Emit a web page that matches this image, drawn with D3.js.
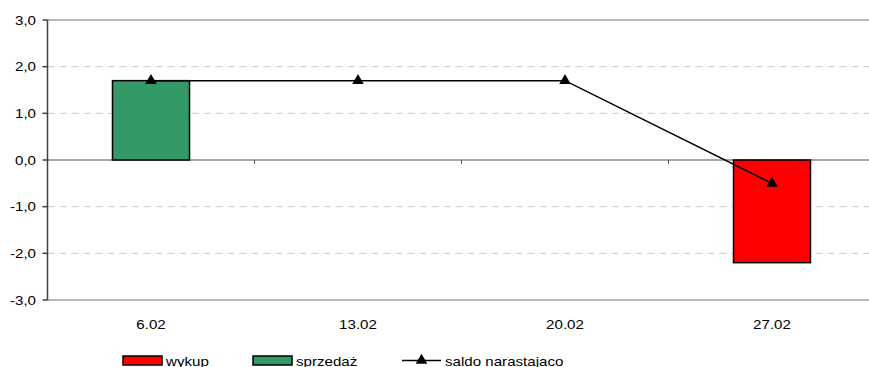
<!DOCTYPE html>
<html>
<head>
<meta charset="utf-8">
<script src="https://cdn.jsdelivr.net/npm/d3@7"></script>
<style>
  html, body { margin: 0; padding: 0; background: #fff; }
  svg { display: block; }
  text { font-family: "Liberation Sans", Arial, sans-serif; fill: #000; }
</style>
</head>
<body>
<svg id="chart" width="869" height="367"></svg>
<script>
// Weekly values
const categories = ["6.02", "13.02", "20.02", "27.02"];
const wykup = [0, 0, 0, -2.2];        // redemptions
const sprzedaz = [1.7, 0, 0, 0];      // sales
const saldo = [1.7, 1.7, 1.7, -0.5];  // cumulative balance
const yTicks = [-3, -2, -1, 0, 1, 2, 3];
const legendLabels = ["wykup", "sprzedaż", "saldo narastajaco"];

const colors = { wykup: "#ff0000", sprzedaz: "#339966" };

const svg = d3.select("#chart");
const W = 869, H = 367;
const plot = { left: 47.5, right: 875.5, top: 20, bottom: 300 };
const fontSize = 12.6, stretch = 1.2;

const x = d3.scaleBand()
  .domain(categories)
  .range([plot.left, plot.right])
  .paddingInner(0.628)
  .paddingOuter(0.314);

const y = d3.scaleLinear().domain([-3, 3]).range([plot.bottom, plot.top]);

const fmt = v => d3.format(".1f")(v).replace(".", ",").replace("−", "-");

// Horizontally stretched text helper
function label(g, tx, ty, str, anchor) {
  return g.append("text")
    .attr("transform", `translate(${tx},${ty}) scale(${stretch},1)`)
    .attr("text-anchor", anchor)
    .style("font-size", fontSize + "px")
    .text(str);
}

// Gridlines
const grid = svg.append("g");
yTicks.forEach(t => {
  const solid = (t === 3 || t === -3 || t === 0);
  grid.append("line")
    .attr("x1", plot.left).attr("x2", W)
    .attr("y1", y(t)).attr("y2", y(t))
    .attr("stroke", t === 0 ? "#888" : (solid ? "#a0a0a0" : "#c8c8c8"))
    .attr("stroke-width", solid ? 1.5 : 1)
    .attr("stroke-dasharray", solid ? null : "7,5");
});

// Bars (stacked around zero)
const barG = svg.append("g");
function bars(values, color) {
  barG.selectAll(null)
    .data(categories.map((c, i) => ({ c, v: values[i] })).filter(d => d.v !== 0))
    .join("rect")
    .attr("x", d => x(d.c))
    .attr("width", x.bandwidth())
    .attr("y", d => y(Math.max(0, d.v)))
    .attr("height", d => Math.abs(y(d.v) - y(0)))
    .attr("fill", color)
    .attr("stroke", "#000")
    .attr("stroke-width", 1.5);
}
bars(sprzedaz, colors.sprzedaz);
bars(wykup, colors.wykup);

// Category axis ticks along zero line at band boundaries
const step = x.step();
categories.forEach((c, i) => {
  if (i === 0) return;
  const bx = plot.left + i * step;
  svg.append("line")
    .attr("x1", bx).attr("x2", bx)
    .attr("y1", y(0)).attr("y2", y(0) + 4)
    .attr("stroke", "#555").attr("stroke-width", 1);
});

// Value axis
const axisG = svg.append("g");
axisG.append("line")
  .attr("x1", plot.left).attr("x2", plot.left)
  .attr("y1", plot.top).attr("y2", plot.bottom)
  .attr("stroke", "#404040").attr("stroke-width", 1.5);
yTicks.forEach(t => {
  axisG.append("line")
    .attr("x1", plot.left - 5).attr("x2", plot.left)
    .attr("y1", y(t)).attr("y2", y(t))
    .attr("stroke", "#404040").attr("stroke-width", 1.5);
  label(axisG, 36, y(t) + 4.5, fmt(t), "end");
});

// Category labels
categories.forEach(c => {
  label(svg, x(c) + x.bandwidth() / 2, 328.5, c, "middle");
});

// Cumulative balance line with triangle markers
const cx = c => x(c) + x.bandwidth() / 2;
svg.append("path")
  .datum(categories.map((c, i) => [cx(c), y(saldo[i])]))
  .attr("d", d3.line())
  .attr("fill", "none")
  .attr("stroke", "#000")
  .attr("stroke-width", 1.5);

const tri = d3.symbol().type(d3.symbolTriangle).size(58);
svg.selectAll(null)
  .data(categories.map((c, i) => [cx(c), y(saldo[i])]))
  .join("path")
  .attr("d", tri)
  .attr("transform", d => `translate(${d[0]},${d[1]})`)
  .attr("fill", "#000");

// Legend
const lg = svg.append("g");
const ly = 360.5;
lg.append("rect").attr("x", 123).attr("y", ly - 4.5).attr("width", 39).attr("height", 9)
  .attr("fill", colors.wykup).attr("stroke", "#000").attr("stroke-width", 1.5);
label(lg, 166, ly + 5, legendLabels[0], "start");
lg.append("rect").attr("x", 253).attr("y", ly - 4.5).attr("width", 39).attr("height", 9)
  .attr("fill", colors.sprzedaz).attr("stroke", "#000").attr("stroke-width", 1.5);
label(lg, 296, ly + 5, legendLabels[1], "start");
lg.append("line").attr("x1", 402).attr("x2", 441).attr("y1", ly).attr("y2", ly)
  .attr("stroke", "#000").attr("stroke-width", 1.5);
lg.append("path").attr("d", tri).attr("transform", `translate(421.5,${ly})`).attr("fill", "#000");
label(lg, 445, ly + 5, legendLabels[2], "start");
</script>
</body>
</html>
